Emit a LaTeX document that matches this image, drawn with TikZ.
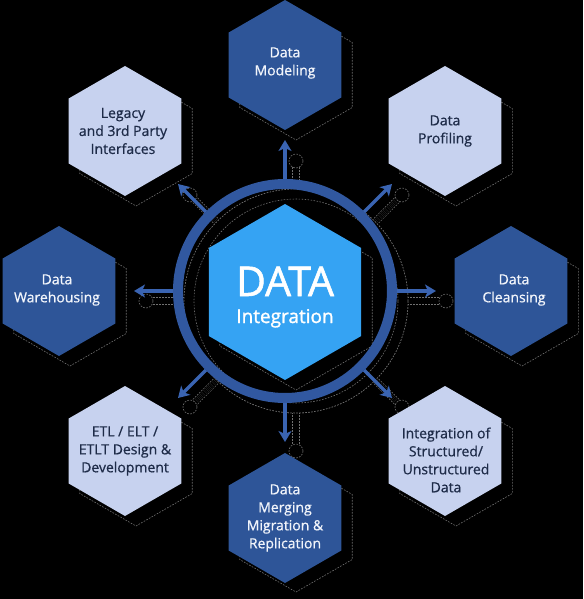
\documentclass[tikz,border=0pt]{standalone}
\usepackage{fontspec}
\setmainfont{Open Sans}
\newfontfamily\lblfont[FakeBold=0.7]{Open Sans}
\newfontfamily\corefont[FakeBold=1.4]{Open Sans}
\usetikzlibrary{shapes.geometric,arrows.meta}
\definecolor{darkhex}{HTML}{2E5598}
\definecolor{lighthex}{HTML}{C7D2EF}
\definecolor{corehex}{HTML}{35A3F3}
\definecolor{ringc}{HTML}{3158A0}
\definecolor{arrowc}{HTML}{3A64B2}
\definecolor{shadowline}{HTML}{707070}
\definecolor{darktext}{HTML}{F2F5FB}
\definecolor{lighttext}{HTML}{1E2B48}
\begin{document}
\begin{tikzpicture}[x=1pt,y=-1pt,
  hexbase/.style={regular polygon, regular polygon sides=6, shape border rotate=30, minimum size=130pt, inner sep=0pt, outer sep=0pt},
  hexdark/.style={hexbase, fill=darkhex},
  hexlight/.style={hexbase, fill=lighthex},
  shadowdash/.style={draw=shadowline, line width=0.6pt, dash pattern=on 1.6pt off 1.4pt},
  hexshadow/.style={hexbase, fill=black, shadowdash},
  darklbl/.style={align=center, text=darktext, font=\lblfont\fontsize{14}{18}\selectfont, inner sep=0pt},
  lightlbl/.style={align=center, text=lighttext, font=\lblfont\fontsize{14}{18}\selectfont, inner sep=0pt},
  conn/.style={draw=arrowc, line width=3.5pt, -{Stealth[length=11pt,width=13pt,inset=3pt]}},
  connshadow/.style={shadowdash, double=black, double distance=6pt},
]
\useasboundingbox (0,0) rectangle (583,599);
\fill[black] (0,0) rectangle (583,599);

% ---------- shadows (offset 11,10) ----------
\node[hexshadow] (shModeling) at (296,75) {};
\node[hexshadow] (shProfiling) at (456,141) {};
\node[hexshadow] (shCleansing) at (522,301) {};
\node[hexshadow] (shIntegr) at (456,461) {};
\node[hexshadow] (shMerging) at (296,527) {};
\node[hexshadow] (shEtl) at (136,461) {};
\node[hexshadow] (shWare) at (70,301) {};
\node[hexshadow] (shLegacy) at (136,141) {};

\node[circle, minimum size=224pt, inner sep=0pt, outer sep=0pt, fill=black, shadowdash] (shRingOut) at (296,301) {};
\foreach \tx/\ty in {446/301, 402/195, 296/161, 190/195, 146/301, 190/407, 296/451, 402/407}{
  \coordinate (shtip) at (\tx,\ty);
  \draw[connshadow] (shRingOut.center) -- (shtip);
  \node[circle, minimum size=14pt, inner sep=0pt, fill=black, shadowdash] (shtipc) at (shtip) {};
}
\node[circle, minimum size=224pt, inner sep=0pt, outer sep=0pt, fill=black] (shRingFill) at (296,301) {};
\draw[shadowdash] (shRingFill.center) circle[radius=112pt];
\draw[shadowdash] (shRingFill.center) circle[radius=102pt];
\node[hexbase, minimum size=176pt, fill=black, shadowdash] (shCore) at (296,302) {};

% ---------- satellite hexagons ----------
\node[hexdark] (modeling) at (285,65) {};
\node[hexlight] (profiling) at (445,131) {};
\node[hexdark] (cleansing) at (511,291) {};
\node[hexlight] (integr) at (445,451) {};
\node[hexdark] (merging) at (285,518) {};
\node[hexlight] (etl) at (125,451) {};
\node[hexdark] (ware) at (59,291) {};
\node[hexlight] (legacy) at (125,131) {};

\node[darklbl] (tModeling) at (285,63) {Data\\Modeling};
\node[lightlbl] (tProfiling) at (445,131) {Data\\Profiling};
\node[darklbl] (tCleansing) at (514,290) {Data\\Cleansing};
\node[lightlbl] (tIntegr) at (446,460) {Integration of\\Structured/\\Unstructured\\Data};
\node[darklbl] (tMerging) at (285,518) {Data\\Merging\\Migration \&\\Replication};
\node[lightlbl] (tEtl) at (125,451) {ETL / ELT /\\ETLT Design \&\\Development};
\node[darklbl] (tWare) at (57,290) {Data\\Warehousing};
\node[lightlbl] (tLegacy) at (123,131) {Legacy\\and 3rd Party\\Interfaces};

% ---------- ring and core ----------
\node[circle, draw=ringc, line width=10pt, minimum size=214pt, inner sep=0pt] (ring) at (285,291) {};
\node[hexbase, minimum size=176pt, fill=corehex] (core) at (285,292) {};
\node[anchor=base, text=white, font=\corefont\fontsize{41}{41}\selectfont, inner sep=0pt] (coreTitle) at (285,296) {DATA};
\node[anchor=base, text=white, font=\corefont\fontsize{19}{19}\selectfont, inner sep=0pt] (coreSub) at (285,323) {Integration};

% ---------- connectors ----------
\coordinate (tipE) at (436,291);
\coordinate (tipNE) at (392,184);
\coordinate (tipN) at (285,140);
\coordinate (tipNW) at (178,184);
\coordinate (tipW) at (134,291);
\coordinate (tipSW) at (178,398);
\coordinate (tipS) at (285,442);
\coordinate (tipSE) at (392,398);
\draw[conn] (ring.0) -- (tipE);
\draw[conn] (ring.45) -- (tipNE);
\draw[conn] (ring.90) -- (tipN);
\draw[conn] (ring.135) -- (tipNW);
\draw[conn] (ring.180) -- (tipW);
\draw[conn] (ring.225) -- (tipSW);
\draw[conn] (ring.270) -- (tipS);
\draw[conn] (ring.315) -- (tipSE);
\end{tikzpicture}
\end{document}
